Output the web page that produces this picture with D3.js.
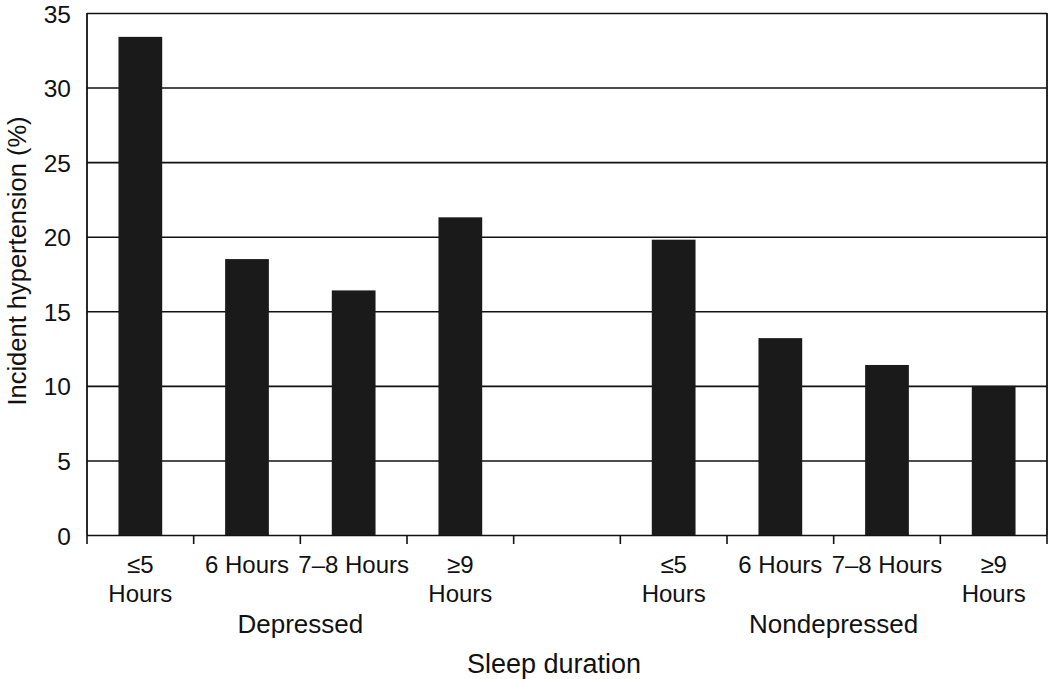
<!DOCTYPE html>
<meta charset="utf-8">
<script src="https://d3js.org/d3.v7.min.js"></script>
<style>
body { margin: 0; background: #fff; }
text { font-family: "Liberation Sans", Arial, sans-serif; fill: #111; }
</style>
<div id="chart"></div>
<script>
  // Data
  var slots = ["d1", "d2", "d3", "d4", "gap", "n1", "n2", "n3", "n4"];
  var barLabels = [["≤5", "Hours"], ["6 Hours"], ["7–8 Hours"], ["≥9", "Hours"], [],
                   ["≤5", "Hours"], ["6 Hours"], ["7–8 Hours"], ["≥9", "Hours"]];
  var values = [33.4, 18.5, 16.4, 21.3, null, 19.8, 13.2, 11.4, 10.0];
  var groups = ["Depressed", "Nondepressed"];
  var groupSlots = [["d1", "d4"], ["n1", "n4"]];
  var yTicks = [0, 5, 10, 15, 20, 25, 30, 35];

  var margin = { top: 13, right: 3, bottom: 144, left: 87 },
      width = 1050 - margin.left - margin.right,
      height = 679 - margin.top - margin.bottom;

  var svg = d3.select("#chart").append("svg")
      .attr("width", 1050).attr("height", 679)
      .append("g")
      .attr("transform", "translate(" + margin.left + "," + margin.top + ")");

  var x = d3.scaleBand().domain(slots).range([0, width]).paddingInner(0.59).paddingOuter(0.295);
  var y = d3.scaleLinear().domain([0, 35]).range([height, 0]);

  // gridlines + y axis
  var yAxis = svg.append("g")
      .call(d3.axisLeft(y).tickValues(yTicks).tickSize(9).tickPadding(7));
  yAxis.select(".domain").remove();
  yAxis.selectAll(".tick line").attr("x2", width).attr("stroke", "#111").attr("stroke-width", 1.6);
  yAxis.selectAll(".tick text").style("font-size", "24.5px").attr("fill", "#111").attr("dy", "0.37em");

  // bars
  svg.selectAll(".bar")
     .data(slots.map(function (s, i) { return { s: s, v: values[i] }; }).filter(function (d) { return d.v != null; }))
     .enter().append("rect")
     .attr("x", function (d) { return x(d.s); })
     .attr("y", function (d) { return y(d.v); })
     .attr("width", x.bandwidth())
     .attr("height", function (d) { return height - y(d.v); })
     .attr("fill", "#1a1a1a");

  // frame lines
  svg.append("line").attr("x1", 0).attr("x2", 0).attr("y1", 0).attr("y2", height)
     .attr("stroke", "#111").attr("stroke-width", 1.8);
  svg.append("line").attr("x1", width).attr("x2", width).attr("y1", 0).attr("y2", height)
     .attr("stroke", "#111").attr("stroke-width", 1.8);

  // x boundary ticks
  var bounds = d3.range(slots.length + 1).map(function (i) { return i * width / slots.length; });
  svg.selectAll(".xt").data(bounds).enter().append("line")
     .attr("x1", function (d) { return d; }).attr("x2", function (d) { return d; })
     .attr("y1", height).attr("y2", height + 9)
     .attr("stroke", "#111").attr("stroke-width", 1.6);

  // category labels
  slots.forEach(function (s, i) {
    var cx = x(s) + x.bandwidth() / 2;
    barLabels[i].forEach(function (line, j) {
      svg.append("text").attr("x", cx).attr("y", height + 38 + j * 29)
         .attr("text-anchor", "middle").style("font-size", "24px").text(line);
    });
  });

  // group labels
  groups.forEach(function (g, i) {
    var a = x(groupSlots[i][0]), b = x(groupSlots[i][1]) + x.bandwidth();
    svg.append("text").attr("x", (a + b) / 2).attr("y", height + 98)
       .attr("text-anchor", "middle").style("font-size", "26px").text(g);
  });

  // axis titles
  svg.append("text").attr("x", width / 2 - 13).attr("y", height + 138)
     .attr("text-anchor", "middle").style("font-size", "27px").text("Sleep duration");
  svg.append("text").attr("transform", "rotate(-90)")
     .attr("x", -248).attr("y", -61)
     .attr("text-anchor", "middle").style("font-size", "25.5px").text("Incident hypertension (%)");
</script>
